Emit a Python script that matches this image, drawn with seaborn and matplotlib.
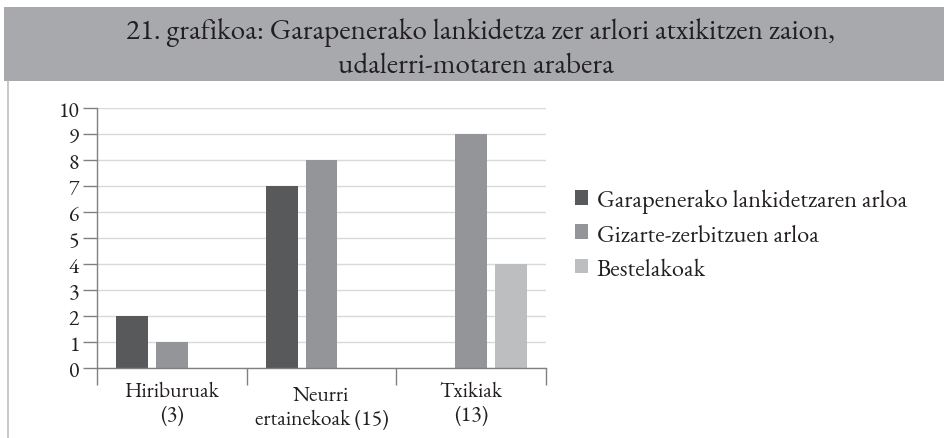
import matplotlib
matplotlib.use("Agg")
import matplotlib.pyplot as plt
import matplotlib.transforms as mtransforms
import seaborn as sns
import pandas as pd
from matplotlib.patches import Rectangle
from matplotlib.lines import Line2D

categories = ["Hiriburuak\n(3)", "Neurri\nertainekoak (15)", "Txikiak\n(13)"]
series = ["Garapenerako lankidetzaren arloa", "Gizarte-zerbitzuen arloa", "Bestelakoak"]
values_garapen = [2, 7, 0]
values_gizarte = [1, 8, 9]
values_bestela = [0, 0, 4]
yticks = [0, 1, 2, 3, 4, 5, 6, 7, 8, 9, 10]
title_lines = ["21. grafikoa: Garapenerako lankidetza zer arlori atxikitzen zaion,",
               "udalerri-motaren arabera"]

colors = ["#58595b", "#939598", "#bcbec0"]

rows = []
for s, vals in zip(series, [values_garapen, values_gizarte, values_bestela]):
    for c, v in zip(categories, vals):
        rows.append({"cat": c, "series": s, "value": v})
df = pd.DataFrame(rows)

sns.set_theme(style="white")
plt.rcParams["font.family"] = ["EB Garamond", "Cormorant Garamond", "Liberation Serif", "DejaVu Serif"]

fig = plt.figure(figsize=(9.44, 4.39), dpi=100)
ax = fig.add_axes([97/944, 1-369/439, (546-97)/944, (369-109)/439])

sns.barplot(data=df, x="cat", y="value", hue="series", palette=colors,
            order=categories, hue_order=series, width=0.8, gap=0.2,
            saturation=1, ax=ax, legend=False, linewidth=0)

ax.set_ylim(0, 10)
ax.set_xlim(-0.5, 2.5)
ax.set_yticks(yticks)
ax.set_yticklabels([str(t) for t in yticks], fontsize=15.5, color="#231f20")
ax.yaxis.grid(True, color="#d9d9d9", linewidth=1)
ax.set_axisbelow(True)
ax.set_xlabel("")
ax.set_ylabel("")
for side in ["top", "right"]:
    ax.spines[side].set_visible(False)
for side in ["left", "bottom"]:
    ax.spines[side].set_color("#808080")
    ax.spines[side].set_linewidth(1)
ax.tick_params(axis="y", direction="out", length=10, width=1, color="#808080", pad=3, left=True)
ax.set_xticks([0, 1, 2])
ax.set_xticklabels(categories, fontsize=15.5, color="#231f20", linespacing=1.15)
ax.tick_params(axis="x", which="major", length=0, pad=9)
ax.set_xticks([-0.5, 0.5, 1.5, 2.5], minor=True)
ax.tick_params(axis="x", which="minor", direction="out", length=12, width=1, color="#808080", bottom=True)

# the middle category label sits a little lower in the reference
mid = ax.get_xticklabels()[1]
mid.set_transform(mid.get_transform() + mtransforms.ScaledTranslation(0, -3/72, fig.dpi_scale_trans))

# title band
fig.patches.append(Rectangle((4/944, 1-82/439), 1-4/944, 74/439, transform=fig.transFigure,
                             facecolor="#a7a9ac", edgecolor="none", zorder=0))
fig.lines.append(Line2D([7.5/944, 7.5/944], [0, 1-82/439], transform=fig.transFigure,
                        color="#bcbec0", linewidth=1.2))
fig.text(480/944, 1-39/439, title_lines[0], ha="center", va="baseline", fontsize=21,
         color="#231f20")
fig.text(476/944, 1-73/439, title_lines[1], ha="center", va="baseline", fontsize=21,
         color="#231f20")

handles = [Rectangle((0, 0), 1, 1, facecolor=c, edgecolor="none") for c in colors]
fig.legend(handles, series, loc="center left", bbox_to_anchor=(575/944, 1-236/439),
           frameon=False, fontsize=17.5, handlelength=0.55, handleheight=0.55,
           handletextpad=0.35, labelspacing=0.42, labelcolor="#231f20",
           borderpad=0, borderaxespad=0)

fig.savefig("out.png", dpi=100)
